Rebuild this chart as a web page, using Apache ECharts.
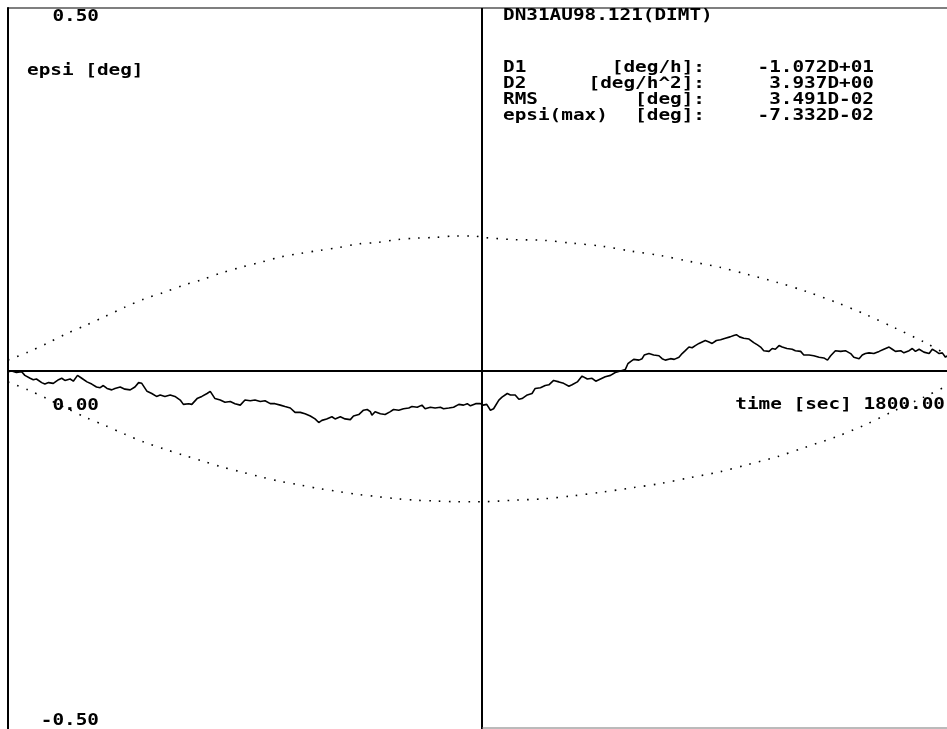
<!DOCTYPE html>
<html><head><meta charset="utf-8">
<script src="https://cdn.jsdelivr.net/npm/echarts@6/dist/echarts.min.js"></script>
<style>html,body{margin:0;padding:0;background:#fff}#c{width:947px;height:729px}</style>
</head><body><div id="c"></div>
<script>
// ---- data ----
const curveTime = [0,7,16,26,32,42,48,54,64,70,77,86,96,102,108,118,124,132,140,150,159,168,175,181,188,197,203,213,222,232,241,248,254,264,273,282,289,298,308,317,327,333,343,349,359,368,378,384,393,403,412,422,431,441,450,460,469,479,488,498,507,517,526,536,545,555,
564,574,583,590,596,605,615,621,631,640,650,656,666,675,682,688,691,697,707,716,726,732,742,751,761,767,777,786,792,802,811,821,827,837,846,856,865,872,878,888,897,902,909,916,922,932,938,948,954,963,970,976,986,995,1001,1011,1020,1027,1036,1046,1055,1065,1071,1081,1090,1100,1109,1116,1125,1134,1144,1153,
1163,1172,1177,1182,1188,1198,1204,1208,1217,1226,1236,1242,1248,1258,1265,1274,1280,1286,1293,1299,1305,1312,1318,1324,1331,1337,1345,1353,1362,1371,1378,1383,1389,1397,1407,1416,1423,1429,1435,1445,1451,1457,1464,1470,1479,1489,1495,1505,1511,1521,1530,1540,1549,1556,1562,1571,1581,1590,1600,1606,1616,1622,1628,1635,1644,1654,1663,1673,1679,1685,1695,1701,1711,1717,1723,1730,1739,1749,1755,1762,1768,1774,1780,1783];
const curveEpsi = [-0.001,0.000,-0.002,-0.001,-0.006,-0.010,-0.012,-0.011,-0.016,-0.018,-0.016,-0.017,-0.012,-0.010,-0.013,-0.011,-0.014,-0.006,-0.010,-0.015,-0.018,-0.022,-0.023,-0.020,-0.024,-0.026,-0.024,-0.022,-0.025,-0.026,-0.022,-0.016,-0.017,-0.028,-0.031,-0.035,-0.033,-0.035,-0.033,-0.035,-0.040,-0.046,-0.045,-0.046,-0.038,-0.035,-0.031,-0.028,-0.038,-0.040,-0.043,-0.042,-0.045,-0.047,-0.040,-0.041,-0.040,-0.042,-0.041,-0.045,-0.045,-0.047,-0.049,-0.051,-0.057,-0.057,
-0.059,-0.062,-0.066,-0.071,-0.068,-0.066,-0.063,-0.066,-0.063,-0.066,-0.067,-0.062,-0.060,-0.054,-0.053,-0.056,-0.061,-0.056,-0.059,-0.060,-0.056,-0.053,-0.054,-0.052,-0.051,-0.049,-0.050,-0.047,-0.052,-0.050,-0.051,-0.050,-0.052,-0.051,-0.050,-0.046,-0.047,-0.045,-0.048,-0.045,-0.045,-0.047,-0.046,-0.054,-0.052,-0.040,-0.036,-0.031,-0.033,-0.033,-0.039,-0.038,-0.033,-0.031,-0.024,-0.023,-0.020,-0.019,-0.013,-0.015,-0.017,-0.021,-0.019,-0.015,-0.007,-0.011,-0.010,-0.014,-0.011,-0.008,-0.006,-0.002,
0.000,0.002,0.010,0.013,0.016,0.015,0.017,0.022,0.024,0.022,0.021,0.017,0.015,0.017,0.016,0.019,0.024,0.028,0.033,0.032,0.035,0.038,0.040,0.042,0.040,0.038,0.042,0.043,0.045,0.047,0.049,0.050,0.047,0.045,0.044,0.039,0.036,0.033,0.028,0.027,0.031,0.030,0.035,0.033,0.031,0.030,0.028,0.027,0.022,0.022,0.021,0.019,0.018,0.015,0.021,0.028,0.027,0.028,0.024,0.019,0.017,0.022,0.024,0.025,0.024,0.027,0.030,0.033,0.030,0.027,0.028,0.025,0.028,0.031,0.027,0.030,0.026,0.024,0.030,0.027,0.024,0.025,0.019,0.021];

const envTime  = [0,38,74,110,148,184,222,258,295,333,369,405,443,481,517,555,591,627,665,701,739,775,811,849,885,902,960,1017,1072,1127,1184,1239,1294,1351,1404,1461,1514,1571,1628,1682,1739,1784,1800];
const envUpper = [0.015,0.026,0.038,0.051,0.063,0.075,0.088,0.099,0.108,0.118,0.126,0.135,0.143,0.150,0.157,0.162,0.166,0.170,0.175,0.177,0.181,0.183,0.184,0.186,0.186,0.184,0.181,0.180,0.176,0.172,0.165,0.159,0.151,0.143,0.133,0.122,0.110,0.095,0.078,0.060,0.040,0.022,0.015];
const envLower = [-0.015,-0.026,-0.038,-0.051,-0.064,-0.075,-0.087,-0.098,-0.107,-0.116,-0.124,-0.132,-0.139,-0.146,-0.152,-0.157,-0.162,-0.166,-0.170,-0.173,-0.176,-0.178,-0.179,-0.180,-0.180,-0.180,-0.178,-0.176,-0.172,-0.167,-0.161,-0.155,-0.147,-0.139,-0.129,-0.118,-0.105,-0.091,-0.074,-0.055,-0.036,-0.020,-0.015];

const xMin = 0, xMax = 1800, yMin = -0.5, yMax = 0.5;
const centerTime = 900;
const yTickLabels = ['0.50', '0.00', '-0.50'];
const yAxisTitle = 'epsi [deg]';
const xAxisTitle = 'time [sec] ' + xMax.toFixed(2);
const infoTitle = 'DN31AU98.121(DIMT)';
const infoNames = ['D1', 'D2', 'RMS', 'epsi(max)'];
const infoUnits = ['[deg/h]:', '[deg/h^2]:', '[deg]:', '[deg]:'];
const infoValues = ['-1.072D+01', '3.937D+00', '3.491D-02', '-7.332D-02'];

// ---- styling ----
const FONT = 'bold 15px "DejaVu Sans Mono"';
const SX = 1.29;
function txt(text, x, y, align) {
  return { type: 'text', x: x, y: y, scaleX: SX, z: 100,
    style: { text: text, font: FONT, fill: '#000', textAlign: align || 'left', textVerticalAlign: 'middle' } };
}
const zip = (a, b) => a.map((v, i) => [v, b[i]]);

const graphics = [];
const tickY = [17, 406, 721];
yTickLabels.forEach((t, i) => graphics.push(txt(t, 99, tickY[i], 'right')));
graphics.push(txt(yAxisTitle, 27, 71, 'left'));
graphics.push(txt(xAxisTitle, 945, 405, 'right'));
graphics.push(txt(infoTitle, 503, 16, 'left'));
const rowY = [68, 84, 100, 116];
infoNames.forEach((n, i) => {
  graphics.push(txt(n, 503, rowY[i], 'left'));
  graphics.push(txt(infoUnits[i], 705, rowY[i], 'right'));
  graphics.push(txt(infoValues[i], 874, rowY[i], 'right'));
});
graphics.push({ type: 'line', z: 50, shape: { x1: 482, y1: 728, x2: 947, y2: 728 }, style: { stroke: '#777', lineWidth: 1 } });

const chart = echarts.init(document.getElementById('c'), null, { renderer: 'canvas' });
chart.setOption({
  animation: false,
  backgroundColor: '#fff',
  grid: { left: 8, top: 8, width: 948, height: 726, outerBoundsMode: 'none', containLabel: false,
    show: true, borderColor: '#000', borderWidth: 1.2, backgroundColor: '#fff' },
  xAxis: { type: 'value', min: xMin, max: xMax,
    axisLine: { show: true, onZero: true, lineStyle: { color: '#000', width: 2 } },
    axisTick: { show: false }, axisLabel: { show: false }, splitLine: { show: false } },
  yAxis: { type: 'value', min: yMin, max: yMax,
    axisLine: { show: true, onZero: false, lineStyle: { color: '#000', width: 2 } },
    axisTick: { show: false }, axisLabel: { show: false }, splitLine: { show: false } },
  series: [
    { type: 'line', data: zip(envTime, envUpper), showSymbol: false, smooth: 0.3, silent: true,
      lineStyle: { color: '#000', width: 1.6, type: [1.6, 8.2] } },
    { type: 'line', data: zip(envTime, envLower), showSymbol: false, smooth: 0.3, silent: true,
      lineStyle: { color: '#000', width: 1.6, type: [1.6, 8.2] } },
    { type: 'line', data: zip(curveTime, curveEpsi), showSymbol: false, silent: true,
      lineStyle: { color: '#000', width: 1.6 },
      markLine: { silent: true, symbol: 'none', label: { show: false },
        lineStyle: { color: '#000', width: 2, type: 'solid' },
        data: [{ xAxis: centerTime }] } }
  ],
  graphic: graphics
});
</script>
</body></html>
